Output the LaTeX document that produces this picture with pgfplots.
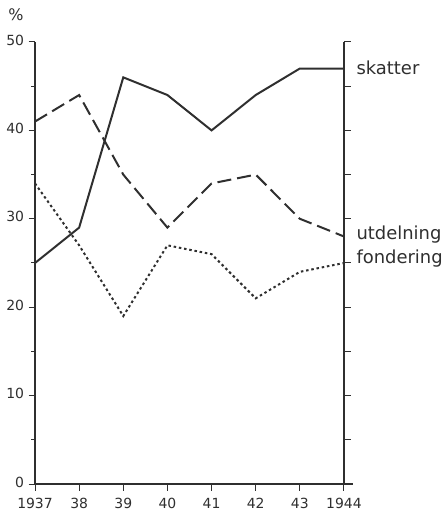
\documentclass[border=0pt]{standalone}
\usepackage{fontspec}
\setmainfont{DejaVu Sans}
\usepackage{pgfplots}
\pgfplotsset{compat=1.18}
\definecolor{ink}{HTML}{2F2F2F}
\pgfplotstableread{
year skatter utdelning fondering
1937 25 41 34
1938 29 44 27
1939 46 35 19
1940 44 29 27
1941 40 34 26
1942 44 35 21
1943 47 30 24
1944 47 28 25
}\datatable
\begin{document}
\begin{tikzpicture}
\useasboundingbox (-35bp,-29bp) rectangle (410bp,484bp);
\pgfplotsset{
  common/.style={
    at={(0,0)}, anchor=south west,
    scale only axis, width=309bp, height=442bp,
    xmin=1937, xmax=1944, ymin=0, ymax=50,
    tick align=outside,
    tick style={ink, line width=1pt},
    axis line style={ink, line width=1.3pt},
    ticklabel style={font=\fontsize{14}{16}\selectfont, text=ink},
    /pgf/number format/assume math mode=true,
  }
}
\begin{axis}[common,
  axis x line*=bottom, axis y line*=left,
  x axis line style={-, shorten >=-9bp},
  y axis line style={-},
  xtick={1937,...,1944},
  xticklabels={1937,38,39,40,41,42,43,1944},
  ytick={0,10,...,50},
  minor ytick={5,15,...,45},
  major tick length=6.5bp, minor tick length=4bp,
  xticklabel style={yshift=-4bp},
  yticklabel style={xshift=-1bp, yshift=2bp},
  clip=false,
]
\addplot[ink, line width=2pt] table[x=year,y=skatter] {\datatable};
\addplot[ink, line width=2pt, dash pattern=on 14bp off 6bp] table[x=year,y=utdelning] {\datatable};
\addplot[ink, line width=2pt, dash pattern=on 2.5bp off 2.8bp] table[x=year,y=fondering] {\datatable};
\node[anchor=west, text=ink, font=\fontsize{18}{20}\selectfont] at (axis cs:1944,47) [xshift=9bp,yshift=1bp] {skatter};
\node[anchor=west, text=ink, font=\fontsize{18}{20}\selectfont] at (axis cs:1944,28) [xshift=9bp,yshift=1.5bp] {utdelning};
\node[anchor=west, text=ink, font=\fontsize{18}{20}\selectfont] at (axis cs:1944,25) [xshift=9bp,yshift=4.5bp] {fondering};
\node[text=ink, font=\fontsize{16}{18}\selectfont] at (axis cs:1937,50) [xshift=-19bp, yshift=27bp] {\%};
\end{axis}
\begin{axis}[common,
  axis x line=none, axis y line*=right,
  y axis line style={-},
  ytick={0,5,...,50}, yticklabels={},
  major tick length=7bp,
]
\end{axis}
\end{tikzpicture}
\end{document}
